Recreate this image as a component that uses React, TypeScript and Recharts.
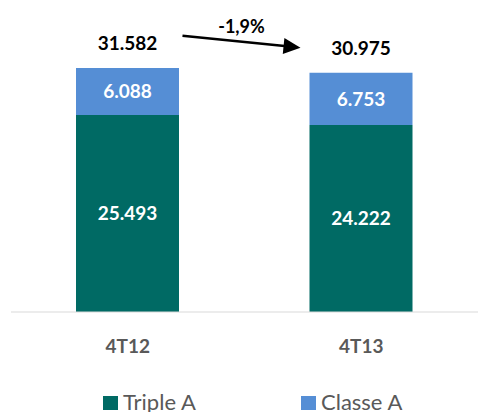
import React from 'react';
import { BarChart, Bar, XAxis, YAxis, LabelList, Legend } from 'recharts';

const categories = ['4T12', '4T13'];
const tripleA = [25493, 24222];
const classeA = [6088, 6753];
const totals = [31582, 30975];
const changeLabel = '-1,9%';

const TEAL = '#006A64';
const BLUE = '#558ED5';
const FONT = 'Lato, "Open Sans", sans-serif';

const data = categories.map((name, i) => ({
  name,
  tripleA: tripleA[i],
  classeA: classeA[i],
  total: totals[i],
}));

const fmt = (v: number) => v.toLocaleString('pt-BR');

const TotalLabel = (props: any) => {
  const { x, y, width, index } = props;
  const cx = x + width / 2;
  const top = (
    <text x={cx} y={y - 18} textAnchor="middle" fill="#000" fontSize={19} fontWeight="bold" fontFamily={FONT}>
      {fmt(totals[index])}
    </text>
  );
  if (index !== 1) return top;

  // arrow from first total to second total
  const x1 = x - 127;
  const y1 = y - 37;
  const x2 = x - 9;
  const y2 = y - 25;
  const ang = Math.atan2(y2 - y1, x2 - x1);
  const len = 17;
  const half = 8;
  const bx = x2 - len * Math.cos(ang);
  const by = y2 - len * Math.sin(ang);
  const px = -Math.sin(ang) * half;
  const py = Math.cos(ang) * half;
  return (
    <g>
      {top}
      <line x1={x1} y1={y1} x2={bx + 1} y2={by} stroke="#000" strokeWidth={2.5} />
      <polygon points={`${x2},${y2} ${bx + px},${by + py} ${bx - px},${by - py}`} fill="#000" />
      <text x={x - 68} y={y - 40} textAnchor="middle" fill="#000" fontSize={18} fontWeight="bold" fontFamily={FONT}>
        {changeLabel}
      </text>
    </g>
  );
};

const CategoryTick = (props: any) => {
  const { x, y, payload } = props;
  return (
    <text x={x} y={y} dy={33} textAnchor="middle" fill="#595959" fontSize={19} fontWeight="bold" fontFamily={FONT}>
      {payload.value}
    </text>
  );
};

const legendItems = [
  { label: 'Triple A', color: TEAL, left: 103 },
  { label: 'Classe A', color: BLUE, left: 301 },
];

const LegendContent = () => (
  <div style={{ position: 'relative', height: 24, fontFamily: FONT, fontSize: 22, lineHeight: '22px', color: '#595959' }}>
    {legendItems.map((it) => (
      <div key={it.label} style={{ position: 'absolute', left: it.left, top: 0, width: 120, height: 24 }}>
        <span style={{ position: 'absolute', left: 0, top: 8, width: 15, height: 14, background: it.color }} />
        <span style={{ position: 'absolute', left: 20, top: 3, whiteSpace: 'nowrap' }}>{it.label}</span>
      </div>
    ))}
  </div>
);

export default function App() {
  return (
    <div style={{ position: 'absolute', left: 0, top: 0, width: 478, height: 412, background: '#fff', overflow: 'hidden' }}>
      <BarChart width={478} height={412} data={data} margin={{ top: 3, right: 0, left: 11, bottom: 0 }}>
        <XAxis
          dataKey="name"
          height={100}
          axisLine={{ stroke: '#d9d9d9', strokeWidth: 1 }}
          tickLine={false}
          tick={<CategoryTick />}
          interval={0}
        />
        <YAxis hide domain={[0, 40000]} />
        <Legend
          verticalAlign="middle"
          align="center"
          layout="horizontal"
          content={<LegendContent />}
          wrapperStyle={{ top: 388, left: 0, width: 478 }}
        />
        <Bar dataKey="tripleA" name="Triple A" stackId="a" fill={TEAL} barSize={103} isAnimationActive={false}>
          <LabelList
            dataKey="tripleA"
            position="center"
            formatter={(v: any) => fmt(v)}
            fill="#fff"
            fontSize={19}
            fontWeight="bold"
            fontFamily={FONT}
          />
        </Bar>
        <Bar dataKey="classeA" name="Classe A" stackId="a" fill={BLUE} barSize={103} isAnimationActive={false}>
          <LabelList
            dataKey="classeA"
            position="center"
            formatter={(v: any) => fmt(v)}
            fill="#fff"
            fontSize={19}
            fontWeight="bold"
            fontFamily={FONT}
          />
          <LabelList dataKey="total" content={<TotalLabel />} />
        </Bar>
      </BarChart>
    </div>
  );
}
